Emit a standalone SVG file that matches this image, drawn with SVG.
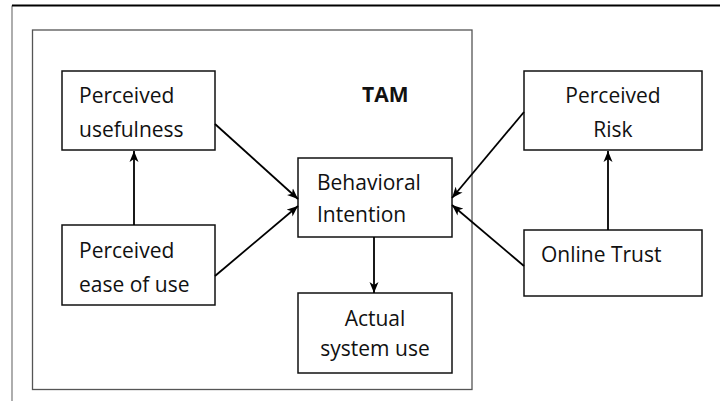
<svg xmlns="http://www.w3.org/2000/svg" width="720" height="401" viewBox="0 0 720 401">
<style>
.box{fill:#fff;stroke:#111;stroke-width:1.5}
.t{font-family:"Open Sans","Liberation Sans",sans-serif;font-size:21px;fill:#111}
.c{text-anchor:middle}
.b{font-weight:bold}
.e{fill:none;stroke:#000;stroke-width:1.8}
</style>
<defs>
<marker id="ah" markerUnits="userSpaceOnUse" markerWidth="12" markerHeight="10" refX="11" refY="5" orient="auto">
<path d="M0,0.5 L11,5 L0,9.5 L3,5 Z" fill="#000"/>
</marker>
</defs>
<rect width="720" height="401" fill="#fff"/>
<g id="frame">
<path d="M12,401 V5.5" fill="none" stroke="#777" stroke-width="1.2"/>
<path d="M12,5.5 H720" fill="none" stroke="#000" stroke-width="1.8"/>
</g>
<g id="tam">
<rect x="32.5" y="30" width="439.5" height="359.5" fill="none" stroke="#555" stroke-width="1.3"/>
<text class="t b" x="362" y="102">TAM</text>
</g>
<g id="perceived-usefulness">
<rect class="box" x="62" y="71" width="153" height="79"/>
<text class="t" x="79" y="103">Perceived</text>
<text class="t" x="79" y="137">usefulness</text>
</g>
<g id="perceived-ease">
<rect class="box" x="62" y="225" width="153" height="80"/>
<text class="t" x="79" y="258">Perceived</text>
<text class="t" x="79" y="292">ease of use</text>
</g>
<g id="behavioral-intention">
<rect class="box" x="298" y="158" width="154" height="79"/>
<text class="t" x="317" y="190">Behavioral</text>
<text class="t" x="317" y="222">Intention</text>
</g>
<g id="actual-use">
<rect class="box" x="298" y="293" width="154" height="80"/>
<text class="t c" x="375" y="326">Actual</text>
<text class="t c" x="375" y="356">system use</text>
</g>
<g id="perceived-risk">
<rect class="box" x="524" y="71" width="178" height="79"/>
<text class="t c" x="613" y="103">Perceived</text>
<text class="t c" x="613" y="137">Risk</text>
</g>
<g id="online-trust">
<rect class="box" x="524" y="230" width="178" height="66"/>
<text class="t" x="541" y="262">Online Trust</text>
</g>
<g id="connectors">
<line class="e" x1="134" y1="225" x2="134" y2="151" marker-end="url(#ah)" stroke-width="2.2"/>
<line class="e" x1="215" y1="124" x2="298" y2="199" marker-end="url(#ah)"/>
<line class="e" x1="215" y1="276" x2="298" y2="206" marker-end="url(#ah)"/>
<line class="e" x1="524" y1="112" x2="452" y2="198" marker-end="url(#ah)"/>
<line class="e" x1="524" y1="266" x2="452" y2="205" marker-end="url(#ah)"/>
<line class="e" x1="374" y1="237" x2="374" y2="293" marker-end="url(#ah)"/>
<line class="e" x1="608" y1="230" x2="608" y2="151" marker-end="url(#ah)"/>
</g>
</svg>
